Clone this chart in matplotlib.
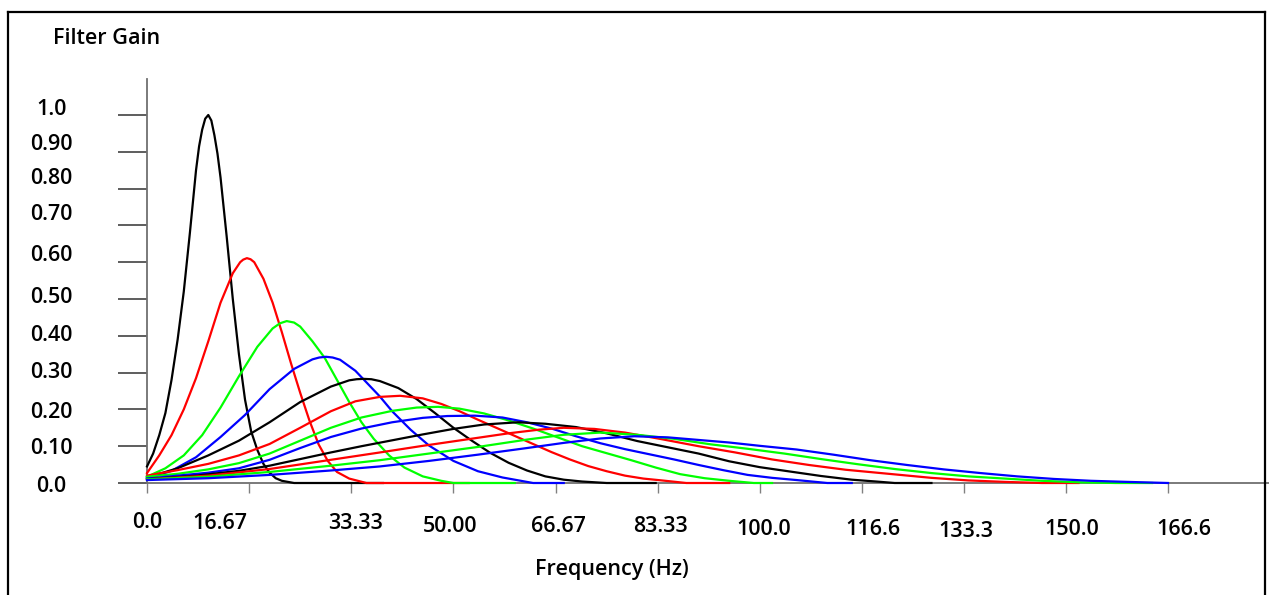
import matplotlib
matplotlib.use("Agg")
import matplotlib.pyplot as plt
from matplotlib.lines import Line2D
from matplotlib.transforms import ScaledTranslation

# filter gain curves (frequency in Hz, gain)
freq_1 = [0, 1, 2, 3, 4, 5, 6, 7, 7.5, 8, 8.5, 9, 9.5, 10, 10.5, 11, 11.5, 12, 13, 14, 15, 16, 17, 18, 19, 20,
          21, 22, 24, 38.5]
gain_1 = [0.045, 0.08, 0.13, 0.19, 0.28, 0.39, 0.52, 0.68, 0.765, 0.85, 0.915, 0.96, 0.99, 1.0, 0.985, 0.945,
          0.895, 0.83, 0.67, 0.50, 0.35, 0.226, 0.14, 0.09, 0.052, 0.028, 0.013, 0.006, 0.0, 0.0]

freq_2 = [0, 2, 4, 6, 8, 10, 12, 14, 15.2, 15.7, 16.3, 16.9, 17.5, 19, 20.5, 22, 23.5, 25, 26.5, 28, 29.5, 31,
          33, 35.8, 52.5]
gain_2 = [0.027, 0.075, 0.13, 0.2, 0.285, 0.385, 0.49, 0.57, 0.60, 0.607, 0.611, 0.608, 0.60, 0.555, 0.49, 0.41,
          0.325, 0.245, 0.17, 0.105, 0.06, 0.03, 0.012, 0.0, 0.0]

freq_3 = [0, 3, 6, 9, 12, 15, 18, 20.5, 21.7, 22.8, 24, 25, 27, 29, 31, 33, 35, 37, 39.5, 42, 45, 48, 50, 60]
gain_3 = [0.017, 0.04, 0.075, 0.13, 0.205, 0.29, 0.37, 0.42, 0.434, 0.44, 0.436, 0.425, 0.385, 0.34, 0.28, 0.22,
          0.165, 0.12, 0.075, 0.042, 0.018, 0.006, 0.0, 0.0]

freq_4 = [0, 4, 8, 12, 16, 20, 24, 27, 28.1, 29.2, 30.3, 31.5, 34, 36, 38, 40, 43, 46, 50, 54, 58, 63, 68]
gain_4 = [0.012, 0.033, 0.07, 0.125, 0.185, 0.255, 0.31, 0.336, 0.341, 0.343, 0.341, 0.335, 0.305, 0.27, 0.235,
          0.195, 0.145, 0.102, 0.06, 0.032, 0.015, 0.0, 0.0]

freq_5 = [0, 5, 10, 15, 20, 25, 30, 33, 34.2, 35.3, 36.6, 38, 41, 44, 47, 50, 53, 56, 59, 62, 65, 68, 71, 75, 83]
gain_5 = [0.015, 0.04, 0.075, 0.115, 0.165, 0.22, 0.262, 0.279, 0.282, 0.283, 0.282, 0.277, 0.258, 0.228, 0.19,
          0.15, 0.115, 0.082, 0.055, 0.034, 0.018, 0.009, 0.004, 0.0, 0.0]

freq_6 = [0, 5, 10, 15, 20, 25, 30, 34, 38, 41.3, 45, 48, 51, 54, 57, 60, 63, 66, 69, 72, 75, 78, 81, 84, 88, 95]
gain_6 = [0.02, 0.035, 0.052, 0.075, 0.106, 0.15, 0.195, 0.222, 0.234, 0.237, 0.23, 0.215, 0.195, 0.172, 0.15,
          0.128, 0.106, 0.084, 0.064, 0.046, 0.032, 0.02, 0.012, 0.007, 0.0, 0.0]

freq_7 = [0, 5, 10, 15, 20, 25, 30, 35, 40, 44, 47.5, 51, 55, 59, 63, 67, 71, 75, 79, 83, 87, 91, 95, 99, 102]
gain_7 = [0.017, 0.025, 0.037, 0.054, 0.08, 0.115, 0.15, 0.178, 0.196, 0.205, 0.207, 0.202, 0.189, 0.17, 0.148,
          0.124, 0.1, 0.081, 0.062, 0.042, 0.024, 0.013, 0.006, 0.0, 0.0]

freq_8 = [0, 5, 10, 15, 20, 25, 30, 35, 40, 45, 49, 53.5, 58, 62, 66, 70, 74, 78, 82, 86, 90, 94, 98, 102, 106,
          111, 115]
gain_8 = [0.012, 0.02, 0.028, 0.04, 0.063, 0.095, 0.125, 0.148, 0.165, 0.177, 0.182, 0.183, 0.178, 0.165, 0.148,
          0.127, 0.108, 0.092, 0.078, 0.064, 0.049, 0.035, 0.022, 0.014, 0.008, 0.0, 0.0]

freq_9 = [0, 8, 15, 20, 25, 30, 35, 40, 45, 50, 55, 60.5, 65, 70, 75, 80, 85, 90, 95, 100, 105, 110, 115, 119,
          122, 128]
gain_9 = [0.01, 0.02, 0.033, 0.047, 0.065, 0.083, 0.1, 0.116, 0.132, 0.147, 0.159, 0.165, 0.161, 0.152, 0.135,
          0.114, 0.097, 0.08, 0.059, 0.043, 0.031, 0.019, 0.009, 0.004, 0.0, 0.0]

freq_10 = [0, 10, 20, 30, 38, 45, 52, 59, 64, 68, 73, 78, 84, 90, 96, 102, 108, 114, 121, 128, 134, 140, 146, 152]
gain_10 = [0.01, 0.02, 0.038, 0.063, 0.083, 0.101, 0.118, 0.135, 0.145, 0.15, 0.147, 0.137, 0.119, 0.1, 0.083,
           0.064, 0.049, 0.036, 0.025, 0.014, 0.007, 0.003, 0.0, 0.0]

freq_11 = [0, 10, 20, 30, 38, 46, 54, 62, 68, 74, 80, 86, 92, 98, 104, 110, 116, 122, 128, 134, 140, 146, 152,
           158, 164]
gain_11 = [0.01, 0.017, 0.03, 0.047, 0.062, 0.08, 0.098, 0.118, 0.131, 0.137, 0.131, 0.12, 0.105, 0.093, 0.08,
           0.065, 0.051, 0.038, 0.027, 0.018, 0.012, 0.006, 0.002, 0.0, 0.0]

freq_12 = [0, 10, 20, 30, 38, 46, 54, 62, 68, 74, 79.5, 85, 90, 95, 100, 106, 112, 118, 124, 130, 136, 142, 148,
           154, 160, 166.6]
gain_12 = [0.008, 0.013, 0.022, 0.034, 0.045, 0.06, 0.077, 0.095, 0.109, 0.121, 0.127, 0.124, 0.117, 0.11, 0.101,
           0.091, 0.077, 0.062, 0.049, 0.037, 0.027, 0.018, 0.011, 0.006, 0.003, 0.0]

curve_freqs = [freq_1, freq_2, freq_3, freq_4, freq_5, freq_6, freq_7, freq_8, freq_9, freq_10, freq_11, freq_12]
curve_gains = [gain_1, gain_2, gain_3, gain_4, gain_5, gain_6, gain_7, gain_8, gain_9, gain_10, gain_11, gain_12]
curve_colors = ["#000000", "#ff0000", "#00ff00", "#0000ff"] * 3

x_ticks = [0, 16.67, 33.33, 50.0, 66.67, 83.33, 100.0, 116.6, 133.3, 150.0, 166.6]
x_tick_labels = ["0.0", "16.67", "33.33", "50.00", "66.67", "83.33", "100.0", "116.6", "133.3", "150.0", "166.6"]
y_ticks = [0.0, 0.1, 0.2, 0.3, 0.4, 0.5, 0.6, 0.7, 0.8, 0.9, 1.0]
y_tick_labels = ["0.0", "0.10", "0.20", "0.30", "0.40", "0.50", "0.60", "0.70", "0.80", "0.90", "1.0"]

# small hand placement shifts of the tick labels (pixels, right / down)
x_label_dx = [0, -29, 4, -3, 3, 3, 4, 11, 2, 5, 16]
x_label_dy = [2, 3, 3, 6, 6, 6, 9, 9, 11, 9, 9]
y_label_dy = [1, 0, 1, -3, -3, -4, -9, -13, -13, -10, -8]

W, H = 1269, 595
font = dict(family="Open Sans", weight="semibold", fontsize=15.5)

fig = plt.figure(figsize=(W / 100, H / 100), dpi=100)
ax = fig.add_axes([147 / W, (H - 483) / H, (W - 147) / W, (483 - 79) / H])
ax.set_xlim(0, 166.6 * (W - 147) / (1168 - 147))
ax.set_ylim(0, (483 - 79) / (483 - 115))

for f, g, c in zip(curve_freqs, curve_gains, curve_colors):
    ax.plot(f, g, color=c, lw=1.6, solid_joinstyle="round", clip_on=False, zorder=3)

for s in ["top", "right"]:
    ax.spines[s].set_visible(False)
ax.spines["left"].set_color("#707070")
ax.spines["bottom"].set_color("#707070")
ax.spines["left"].set_linewidth(1.3)
ax.spines["bottom"].set_linewidth(1.3)

ax.set_xticks(x_ticks)
ax.set_xticklabels(x_tick_labels, **font)
ax.set_yticks(y_ticks)
ax.set_yticklabels(y_tick_labels, **font)
ax.tick_params(axis="x", direction="out", length=7.2, width=1.0, color="#808080", pad=12)
ax.tick_params(axis="y", direction="out", length=21, width=1.3, color="#505050", pad=48)

for lab, dx, dy in zip(ax.get_xticklabels(), x_label_dx, x_label_dy):
    lab.set_transform(lab.get_transform() + ScaledTranslation(dx / 100, -dy / 100, fig.dpi_scale_trans))
for lab, dy in zip(ax.get_yticklabels(), y_label_dy):
    lab.set_horizontalalignment("center")
    lab.set_transform(lab.get_transform() + ScaledTranslation(0, -dy / 100, fig.dpi_scale_trans))

fig.text(53 / W, 1 - 38 / H, "Filter Gain", ha="left", va="center", **font)
fig.text(612 / W, 1 - 570 / H, "Frequency (Hz)", ha="center", va="center", **font)

# outer frame of the screenshot
fig.add_artist(Line2D([8 / W, 8 / W], [0, 1 - 12 / H], transform=fig.transFigure, color="black", lw=1.6))
fig.add_artist(Line2D([8 / W, 1265 / W], [1 - 12 / H, 1 - 12 / H], transform=fig.transFigure, color="black", lw=1.6))
fig.add_artist(Line2D([1265 / W, 1265 / W], [0, 1 - 12 / H], transform=fig.transFigure, color="black", lw=1.6))

fig.savefig("out.png", dpi=100)
